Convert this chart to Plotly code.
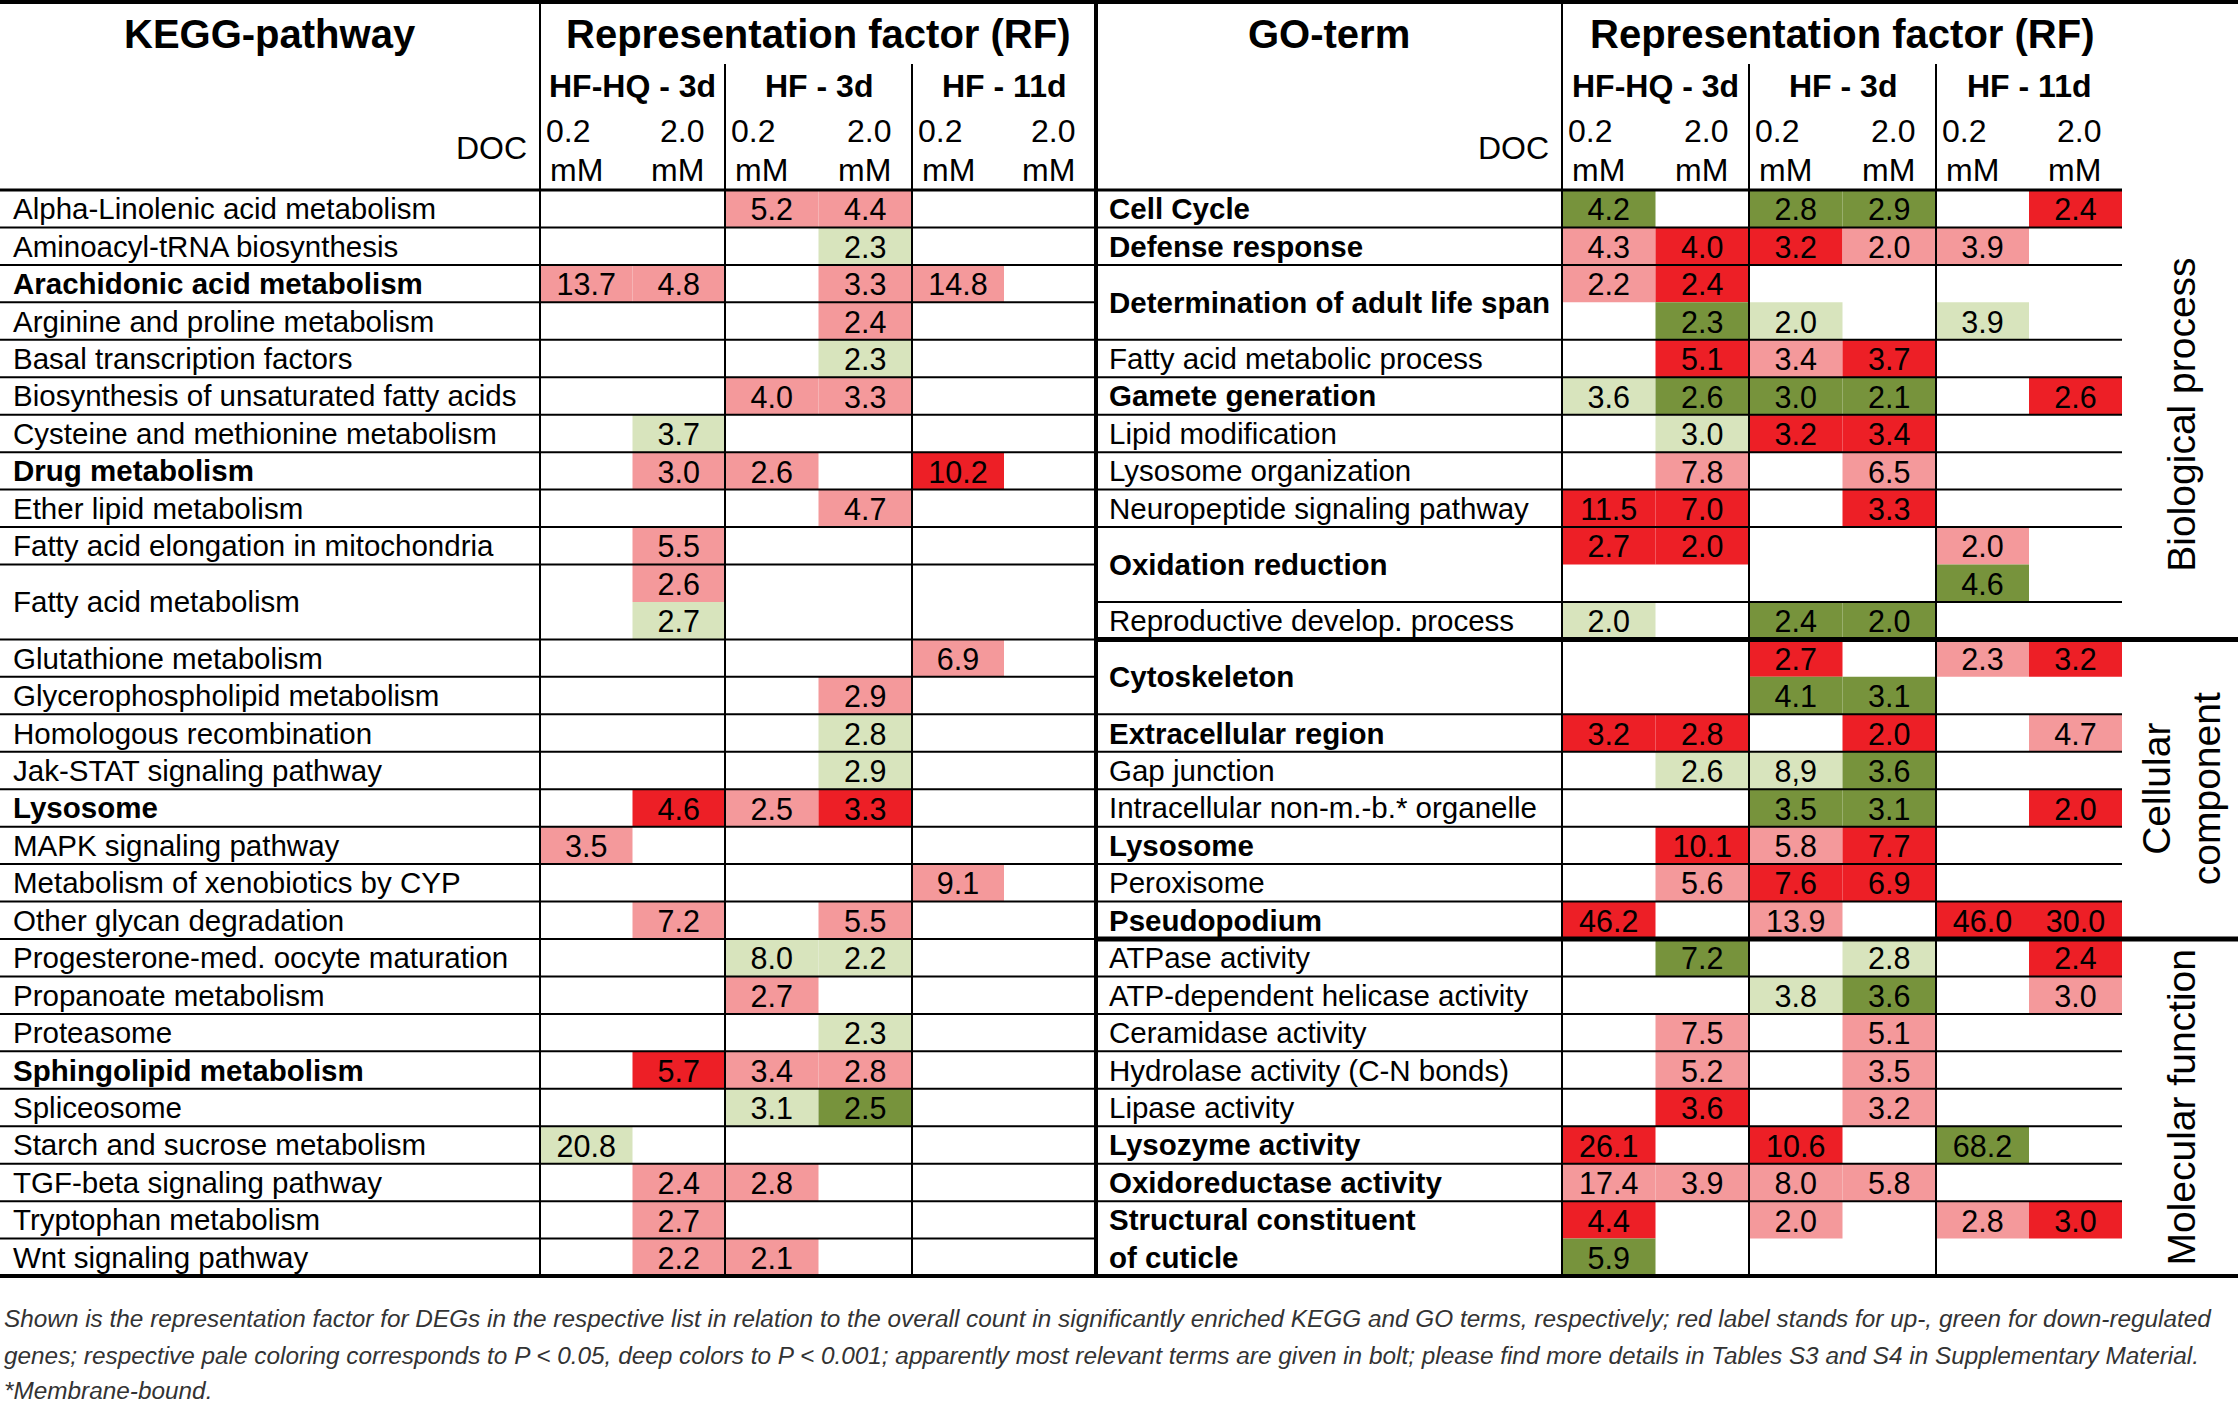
import plotly.graph_objects as go

# ---------------- DATA ----------------
kegg_terms = [
    "Alpha-Linolenic acid metabolism", "Aminoacyl-tRNA biosynthesis", "Arachidonic acid metabolism",
    "Arginine and proline metabolism", "Basal transcription factors", "Biosynthesis of unsaturated fatty acids",
    "Cysteine and methionine metabolism", "Drug metabolism", "Ether lipid metabolism",
    "Fatty acid elongation in mitochondria", "Fatty acid metabolism", "Glutathione metabolism",
    "Glycerophospholipid metabolism", "Homologous recombination", "Jak-STAT signaling pathway",
    "Lysosome", "MAPK signaling pathway", "Metabolism of xenobiotics by CYP", "Other glycan degradation",
    "Progesterone-med. oocyte maturation", "Propanoate metabolism", "Proteasome", "Sphingolipid metabolism",
    "Spliceosome", "Starch and sucrose metabolism", "TGF-beta signaling pathway", "Tryptophan metabolism",
    "Wnt signaling pathway",
]
kegg_bold = [0, 0, 1, 0, 0, 0, 0, 1, 0, 0, 0, 0, 0, 0, 0, 1, 0, 0, 0, 0, 0, 0, 1, 0, 0, 0, 0, 0]
kegg_span = [1, 1, 1, 1, 1, 1, 1, 1, 1, 1, 2, 1, 1, 1, 1, 1, 1, 1, 1, 1, 1, 1, 1, 1, 1, 1, 1, 1]

# one entry per sub-row; first character = significance code (r/R pale/deep red, g/G pale/deep green)
kegg_rf = [
    ["", "", "r5.2", "r4.4", "", ""],
    ["", "", "", "g2.3", "", ""],
    ["r13.7", "r4.8", "", "r3.3", "r14.8", ""],
    ["", "", "", "r2.4", "", ""],
    ["", "", "", "g2.3", "", ""],
    ["", "", "r4.0", "r3.3", "", ""],
    ["", "g3.7", "", "", "", ""],
    ["", "r3.0", "r2.6", "", "R10.2", ""],
    ["", "", "", "r4.7", "", ""],
    ["", "r5.5", "", "", "", ""],
    ["", "r2.6", "", "", "", ""],
    ["", "g2.7", "", "", "", ""],
    ["", "", "", "", "r6.9", ""],
    ["", "", "", "r2.9", "", ""],
    ["", "", "", "g2.8", "", ""],
    ["", "", "", "g2.9", "", ""],
    ["", "R4.6", "r2.5", "R3.3", "", ""],
    ["r3.5", "", "", "", "", ""],
    ["", "", "", "", "r9.1", ""],
    ["", "r7.2", "", "r5.5", "", ""],
    ["", "", "g8.0", "g2.2", "", ""],
    ["", "", "r2.7", "", "", ""],
    ["", "", "", "g2.3", "", ""],
    ["", "R5.7", "r3.4", "r2.8", "", ""],
    ["", "", "g3.1", "G2.5", "", ""],
    ["g20.8", "", "", "", "", ""],
    ["", "r2.4", "r2.8", "", "", ""],
    ["", "r2.7", "", "", "", ""],
    ["", "r2.2", "r2.1", "", "", ""],
]

go_terms = [
    "Cell Cycle", "Defense response", "Determination of adult life span", "Fatty acid metabolic process",
    "Gamete generation", "Lipid modification", "Lysosome organization", "Neuropeptide signaling pathway",
    "Oxidation reduction", "Reproductive develop. process",
    "Cytoskeleton", "Extracellular region", "Gap junction", "Intracellular non-m.-b.* organelle",
    "Lysosome", "Peroxisome", "Pseudopodium",
    "ATPase activity", "ATP-dependent helicase activity", "Ceramidase activity",
    "Hydrolase activity (C-N bonds)", "Lipase activity", "Lysozyme activity", "Oxidoreductase activity",
    "Structural constituent<br>of cuticle",
]
go_bold = [1, 1, 1, 0, 1, 0, 0, 0, 1, 0, 1, 1, 0, 0, 1, 0, 1, 0, 0, 0, 0, 0, 1, 1, 1]
go_span = [1, 1, 2, 1, 1, 1, 1, 1, 2, 1, 2, 1, 1, 1, 1, 1, 1, 1, 1, 1, 1, 1, 1, 1, 2]

go_rf = [
    ["G4.2", "", "G2.8", "G2.9", "", "R2.4"],
    ["r4.3", "R4.0", "R3.2", "r2.0", "r3.9", ""],
    ["r2.2", "R2.4", "", "", "", ""],
    ["", "G2.3", "g2.0", "", "g3.9", ""],
    ["", "R5.1", "r3.4", "R3.7", "", ""],
    ["g3.6", "G2.6", "G3.0", "G2.1", "", "R2.6"],
    ["", "g3.0", "R3.2", "R3.4", "", ""],
    ["", "r7.8", "", "r6.5", "", ""],
    ["R11.5", "R7.0", "", "R3.3", "", ""],
    ["R2.7", "R2.0", "", "", "r2.0", ""],
    ["", "", "", "", "G4.6", ""],
    ["g2.0", "", "G2.4", "G2.0", "", ""],
    ["", "", "R2.7", "", "r2.3", "R3.2"],
    ["", "", "G4.1", "G3.1", "", ""],
    ["R3.2", "R2.8", "", "R2.0", "", "r4.7"],
    ["", "g2.6", "g8,9", "G3.6", "", ""],
    ["", "", "G3.5", "G3.1", "", "R2.0"],
    ["", "R10.1", "r5.8", "R7.7", "", ""],
    ["", "r5.6", "R7.6", "R6.9", "", ""],
    ["R46.2", "", "r13.9", "", "R46.0", "R30.0"],
    ["", "G7.2", "", "g2.8", "", "R2.4"],
    ["", "", "g3.8", "G3.6", "", "r3.0"],
    ["", "r7.5", "", "r5.1", "", ""],
    ["", "r5.2", "", "r3.5", "", ""],
    ["", "R3.6", "", "r3.2", "", ""],
    ["R26.1", "", "R10.6", "", "G68.2", ""],
    ["r17.4", "r3.9", "r8.0", "r5.8", "", ""],
    ["R4.4", "", "r2.0", "", "r2.8", "R3.0"],
    ["G5.9", "", "", "", "", ""],
]

go_categories = ["Biological process", "Cellular<br>component", "Molecular function"]
go_category_span = [12, 8, 9]

conditions = ["HF-HQ - 3d", "HF - 3d", "HF - 11d"]
doc_levels = ["0.2", "2.0"]
doc_unit = "mM"

caption_lines = [
    "Shown is the representation factor for DEGs in the respective list in relation to the overall count in significantly enriched KEGG and GO terms, respectively; red label stands for up-, green for down-regulated",
    "genes; respective pale coloring corresponds to P < 0.05, deep colors to P < 0.001; apparently most relevant terms are given in bolt; please find more details in Tables S3 and S4 in Supplementary Material.",
    "*Membrane-bound.",
]

# ---------------- LAYOUT / STYLE ----------------
W, H = 2238, 1403
FONT = "Liberation Sans, Arial, sans-serif"
COLORS = {"r": "#F4999B", "R": "#ED1F26", "g": "#D8E4BD", "G": "#77933C"}
TOP_Y, SUB_Y, HEAD_Y = 2, 64, 190
ROW_H = 37.45
N_UNITS = len(kegg_rf)
BOT_Y = HEAD_Y + N_UNITS * ROW_H
VALUE_DY = 4
CAPTION_Y = [1318, 1355, 1390]

tables = [
    dict(label_x0=0, label_x1=540, group_edges=[540, 725, 912, 1096], title="KEGG-pathway",
         terms=kegg_terms, bold=kegg_bold, span=kegg_span, rf=kegg_rf, line_x1=1096),
    dict(label_x0=1096, label_x1=1562, group_edges=[1562, 1749, 1936, 2122], title="GO-term",
         terms=go_terms, bold=go_bold, span=go_span, rf=go_rf, line_x1=2122),
]

LABEL_SIZE = 29.5
VALUE_SIZE = 30.5
SUBHEAD_SIZE = 32
TITLE_SIZE = 40

fig = go.Figure()
shapes = []
annotations = []


def yrow(u):
    return HEAD_Y + u * ROW_H


def ann(x, y, text, size, xanchor="center", bold=False, angle=0, color="black"):
    annotations.append(dict(
        x=x, y=y, xref="x", yref="y", text=("<b>%s</b>" % text) if bold else text,
        showarrow=False, xanchor=xanchor, yanchor="middle", textangle=angle,
        font=dict(family=FONT, size=size, color=color), borderpad=0,
    ))


def hline(x0, x1, y, w):
    shapes.append(dict(type="line", xref="x", yref="y", x0=x0, x1=x1, y0=y, y1=y,
                       line=dict(color="black", width=w)))


def vline(x, y0, y1, w):
    shapes.append(dict(type="line", xref="x", yref="y", x0=x, x1=x, y0=y0, y1=y1,
                       line=dict(color="black", width=w)))


fills = []
for t in tables:
    ge = t["group_edges"]
    col_edges = []
    for g in range(3):
        col_edges += [ge[g], (ge[g] + ge[g + 1]) / 2]
    col_edges.append(ge[3])

    # headers
    ann((t["label_x0"] + t["label_x1"]) / 2, 34, t["title"], TITLE_SIZE, bold=True)
    ann((ge[0] + ge[3]) / 2, 34, "Representation factor (RF)", TITLE_SIZE, bold=True)
    for g, cond in enumerate(conditions):
        ann((ge[g] + ge[g + 1]) / 2, 86, cond, SUBHEAD_SIZE, bold=True)
        ann(ge[g] + 5, 131, doc_levels[0], 32, xanchor="left")
        ann(ge[g] + 9, 170, doc_unit, 32, xanchor="left")
        ann(ge[g + 1] - 20, 131, doc_levels[1], 32, xanchor="right")
        ann(ge[g + 1] - 20, 170, doc_unit, 32, xanchor="right")
    ann(t["label_x1"] - 12, 148, "DOC", 32, xanchor="right")

    # cells
    vx, vy, vt = [], [], []
    for u, row in enumerate(t["rf"]):
        for c, tok in enumerate(row):
            if not tok:
                continue
            code, val = tok[0], tok[1:]
            fills.append(dict(type="rect", xref="x", yref="y", x0=col_edges[c], x1=col_edges[c + 1],
                              y0=yrow(u), y1=yrow(u + 1), fillcolor=COLORS[code],
                              line=dict(width=0), layer="below"))
            vx.append((col_edges[c] + col_edges[c + 1]) / 2)
            vy.append(yrow(u) + ROW_H / 2 + VALUE_DY)
            vt.append(val)
    fig.add_trace(go.Scatter(x=vx, y=vy, text=vt, mode="text", hoverinfo="skip",
                             textfont=dict(family=FONT, size=VALUE_SIZE, color="black")))

    # row labels
    u = 0
    for term, b, s in zip(t["terms"], t["bold"], t["span"]):
        parts = term.split("<br>")
        if len(parts) == s and s > 1:
            for k, p in enumerate(parts):
                ann(t["label_x0"] + 12, yrow(u + k) + ROW_H / 2, p, LABEL_SIZE, xanchor="left", bold=b)
        else:
            ann(t["label_x0"] + 12, yrow(u) + s * ROW_H / 2, term, LABEL_SIZE, xanchor="left", bold=b)
        u += s
        if u < N_UNITS:
            hline(t["label_x0"], t["line_x1"], yrow(u), 2)

    # vertical grid
    vline(ge[0], TOP_Y, BOT_Y, 2)
    vline(ge[1], SUB_Y, BOT_Y, 2)
    vline(ge[2], SUB_Y, BOT_Y, 2)
    hline(t["label_x0"], t["line_x1"], HEAD_Y, 3)

# GO category side labels and thick separators
u = 0
for cat, s in zip(go_categories, go_category_span):
    ann(2182, yrow(u) + s * ROW_H / 2, cat, 39, angle=-90)
    u += s
    if u < N_UNITS:
        hline(1096, W, yrow(u), 5)

vline(1096, TOP_Y, BOT_Y, 4)
hline(0, W, TOP_Y, 4)
hline(0, W, BOT_Y, 4)

# caption
for line, cy in zip(caption_lines, CAPTION_Y):
    ann(3, cy, "<i>%s</i>" % line, 24.35, xanchor="left", color="#333333")

fig.update_layout(
    width=W, height=H, margin=dict(l=0, r=0, t=0, b=0),
    paper_bgcolor="white", plot_bgcolor="white", showlegend=False,
    xaxis=dict(range=[0, W], visible=False, fixedrange=True),
    yaxis=dict(range=[H, 0], visible=False, fixedrange=True),
    shapes=fills + shapes, annotations=annotations, hovermode=False,
)
# remove the default page margin so the figure fills the window exactly
fig.write_html("out.html", config={"displayModeBar": False},
               post_script="document.body.style.margin='0';document.body.style.overflow='hidden';")
